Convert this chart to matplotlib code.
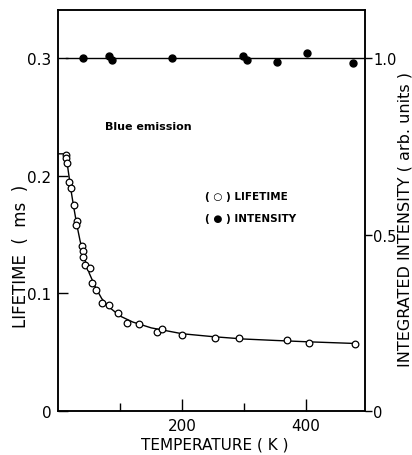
import matplotlib.pyplot as plt

plt.rcParams['font.family'] = ['DejaVu Sans']

# lifetime measurements (open circles)
life_T = [11.9, 13.2, 14.8, 17.3, 20.5, 24.8, 29.7, 29.0, 38.2, 40.3, 39.8, 42.6,
          51.1, 54.8, 61.3, 70.5, 81.3, 96.3, 110.8, 130.6, 159.2, 166.8, 199.5,
          252.7, 292.0, 369.0, 405.0, 479.0]
life_ms = [0.2178, 0.2148, 0.211, 0.1948, 0.1897, 0.1752, 0.1618, 0.1582, 0.1403,
           0.136, 0.1309, 0.1241, 0.1215, 0.109, 0.1028, 0.0917, 0.090, 0.0832,
           0.0747, 0.0741, 0.067, 0.0692, 0.0645, 0.0619, 0.0619, 0.060, 0.0579,
           0.0568]

# fitted lifetime curve
fit_T = [0, 8, 11, 13, 15, 18, 21, 25, 30, 35, 40, 45, 50, 60, 70, 80, 100,
         120, 150, 200, 250, 300, 350, 400, 480]
fit_ms = [0.2187, 0.2187, 0.217, 0.2135, 0.208, 0.197, 0.186, 0.173, 0.158,
          0.145, 0.134, 0.125, 0.117, 0.105, 0.0955, 0.089, 0.0805, 0.0755,
          0.0705, 0.0655, 0.063, 0.061, 0.0598, 0.0587, 0.0572]

# integrated intensity (filled circles)
int_T = [39.4, 81.3, 86.8, 183.4, 298.4, 303.9, 352.2, 402.0, 474.8]
int_val = [1.001, 1.007, 0.996, 1.0, 1.007, 0.996, 0.989, 1.015, 0.987]
int_line_T = [12, 495]
int_line_val = [1.0, 1.0]

fig = plt.figure(figsize=(4.12, 4.56), dpi=100)
ax = fig.add_axes([0.1415, 0.0972, 0.7445, 0.8793])
ax2 = ax.twinx()

ax.plot(fit_T, fit_ms, color='black', lw=1.0)
ax.plot(life_T, life_ms, 'o', mfc='white', mec='black', ms=4.8, mew=0.9, zorder=3)
ax.set_xlim(0, 495)
ax.set_ylim(0, 0.3414)

ax2.plot(int_line_T, int_line_val, color='black', lw=1.0)
ax2.plot(int_T, int_val, 'o', color='black', ms=5)
ax2.set_ylim(0, 1.138)

ax.set_xticks([200, 400])
ax.set_xticks([100, 300], minor=True)
ax.set_yticks([0, 0.1, 0.2, 0.3])
ax.set_yticklabels(['0', '0.1', '0.2', '0.3'])
ax.tick_params(axis='x', which='major', direction='in', length=9, width=1, labelsize=11, pad=5)
ax.tick_params(axis='x', which='minor', direction='in', length=6, width=1)
ax.tick_params(axis='y', direction='in', length=7, width=1, labelsize=11, pad=5)
ax2.set_yticks([0, 0.5, 1.0])
ax2.set_yticklabels(['0', '0.5', '1.0'])
ax2.tick_params(axis='y', direction='out', length=5, width=1, labelsize=10.5, pad=1)

for a in (ax, ax2):
    for s in a.spines.values():
        s.set_linewidth(1.1)

fig.text(0.521, 0.024, 'TEMPERATURE ( K )', fontsize=11, ha='center', va='center')
fig.text(0.05, 0.438, 'LIFETIME  (  ms  )', fontsize=12, rotation=90,
         ha='center', va='center')
fig.text(0.982, 0.518, 'INTEGRATED INTENSITY ( arb. units )', fontsize=11.5,
         rotation=90, ha='center', va='center')

ax.text(75, 0.242, 'Blue emission', fontsize=8, fontweight='bold', va='center')
ax.text(236, 0.183, '( \u25cb ) LIFETIME', fontsize=7.5, fontweight='bold', va='center')
ax.text(236, 0.164, '( \u25cf ) INTENSITY', fontsize=7.5, fontweight='bold', va='center')

fig.savefig('out.png', dpi=100)
